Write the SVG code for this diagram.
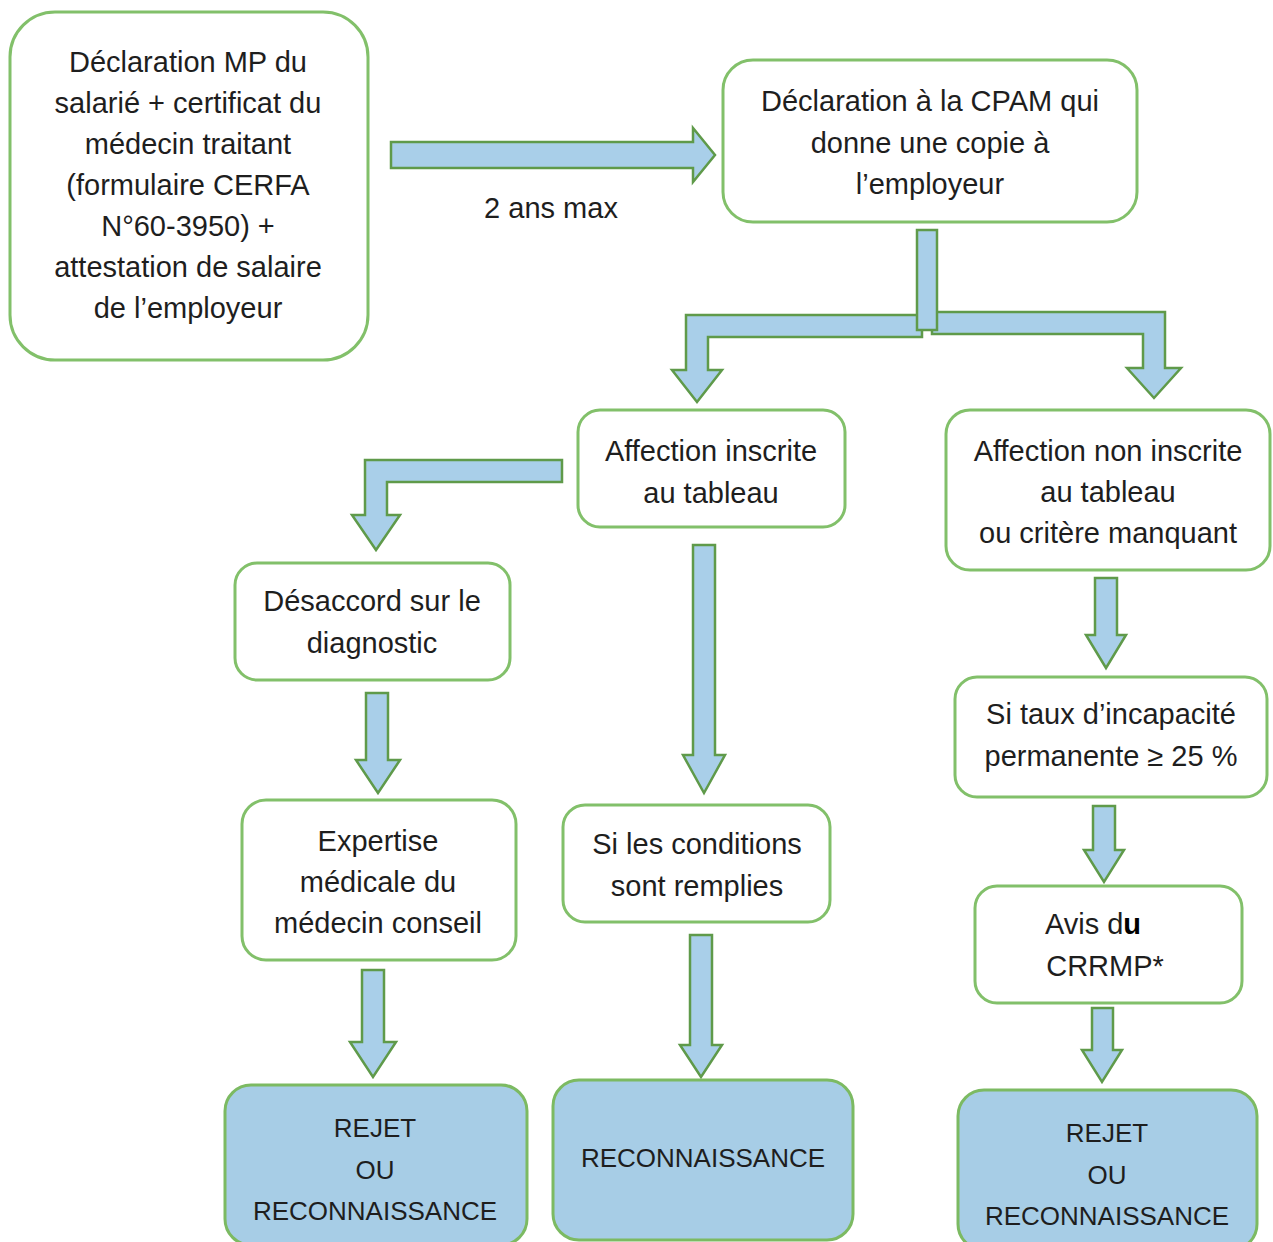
<svg xmlns="http://www.w3.org/2000/svg" width="1273" height="1242" viewBox="0 0 1273 1242">
<style>
.box{fill:#ffffff;stroke:#82c06a;stroke-width:3}
.res{fill:#a7cde6;stroke:#7cba62;stroke-width:3}
.arr{fill:#a9cfe9;stroke:#5f9a4a;stroke-width:2.5;stroke-linejoin:miter}
text{font-family:"Liberation Sans",Arial,sans-serif;font-size:29px;fill:#1e1e1e;text-anchor:middle}
.cap{font-size:26px}
</style>
<rect width="1273" height="1242" fill="#ffffff"/>
<g id="connectors">
<polygon class="arr" points="391,142 693,142 693,128 715,155 693,182 693,168 391,168"/>
<polygon class="arr" points="922,315 686,315 686,370 672,370 697,402 722,370 708,370 708,337 922,337"/>
<polygon class="arr" points="932,312 1165,312 1165,368 1181,368 1154,398 1127,368 1143,368 1143,334 932,334"/>
<rect class="arr" x="917" y="230" width="20" height="100"/>
<polygon class="arr" points="562,460 365,460 365,515 352,515 376,550 400,515 387,515 387,482 562,482"/>
<polygon class="arr" points="693,545 715,545 715,755 725,755 704,793 683,755 693,755"/>
<polygon class="arr" points="366,693 388,693 388,760 400,760 378,793 356,760 366,760"/>
<polygon class="arr" points="362,970 384,970 384,1042 396,1042 373,1077 350,1042 362,1042"/>
<polygon class="arr" points="690,935 712,935 712,1045 722,1045 701,1077 680,1045 690,1045"/>
<polygon class="arr" points="1095,578 1117,578 1117,635 1126,635 1106,668 1086,635 1095,635"/>
<polygon class="arr" points="1093,806 1115,806 1115,850 1124,850 1104,882 1084,850 1093,850"/>
<polygon class="arr" points="1092,1008 1113,1008 1113,1050 1122,1050 1102,1082 1082,1050 1092,1050"/>
</g>
<g id="label-2ans"><text x="551" y="218">2 ans max</text></g>
<g id="n1">
<rect class="box" x="10" y="12" width="358" height="348" rx="45"/>
<text x="188" y="72">Déclaration MP du</text>
<text x="188" y="113">salarié + certificat du</text>
<text x="188" y="154">médecin traitant</text>
<text x="188" y="195">(formulaire CERFA</text>
<text x="188" y="236">N°60-3950) +</text>
<text x="188" y="277">attestation de salaire</text>
<text x="188" y="318">de l’employeur</text>
</g>
<g id="n2">
<rect class="box" x="723" y="60" width="414" height="162" rx="30"/>
<text x="930" y="111">Déclaration à la CPAM qui</text>
<text x="930" y="153">donne une copie à</text>
<text x="930" y="194">l’employeur</text>
</g>
<g id="n3">
<rect class="box" x="578" y="410" width="267" height="117" rx="22"/>
<text x="711" y="461">Affection inscrite</text>
<text x="711" y="503">au tableau</text>
</g>
<g id="n4">
<rect class="box" x="946" y="410" width="324" height="160" rx="24"/>
<text x="1108" y="461">Affection non inscrite</text>
<text x="1108" y="502">au tableau</text>
<text x="1108" y="543">ou critère manquant</text>
</g>
<g id="n5">
<rect class="box" x="235" y="563" width="275" height="117" rx="22"/>
<text x="372" y="611">Désaccord sur le</text>
<text x="372" y="653">diagnostic</text>
</g>
<g id="n6">
<rect class="box" x="242" y="800" width="274" height="160" rx="24"/>
<text x="378" y="851">Expertise</text>
<text x="378" y="892">médicale du</text>
<text x="378" y="933">médecin conseil</text>
</g>
<g id="n7">
<rect class="box" x="563" y="805" width="267" height="117" rx="22"/>
<text x="697" y="854">Si les conditions</text>
<text x="697" y="896">sont remplies</text>
</g>
<g id="n8">
<rect class="box" x="955" y="677" width="312" height="120" rx="22"/>
<text x="1111" y="724">Si taux d’incapacité</text>
<text x="1111" y="766">permanente ≥ 25 %</text>
</g>
<g id="n9">
<rect class="box" x="975" y="886" width="267" height="117" rx="22"/>
<text x="1093" y="934">Avis d<tspan font-weight="bold" fill="#000">u</tspan></text>
<text x="1105" y="976">CRRMP*</text>
</g>
<g id="n10">
<rect class="res" x="225" y="1085" width="302" height="160" rx="26"/>
<text class="cap" x="375" y="1137">REJET</text>
<text class="cap" x="375" y="1179">OU</text>
<text class="cap" x="375" y="1220">RECONNAISSANCE</text>
</g>
<g id="n11">
<rect class="res" x="553" y="1080" width="300" height="160" rx="26"/>
<text class="cap" x="703" y="1167">RECONNAISSANCE</text>
</g>
<g id="n12">
<rect class="res" x="958" y="1090" width="299" height="160" rx="26"/>
<text class="cap" x="1107" y="1142">REJET</text>
<text class="cap" x="1107" y="1184">OU</text>
<text class="cap" x="1107" y="1225">RECONNAISSANCE</text>
</g>
</svg>
